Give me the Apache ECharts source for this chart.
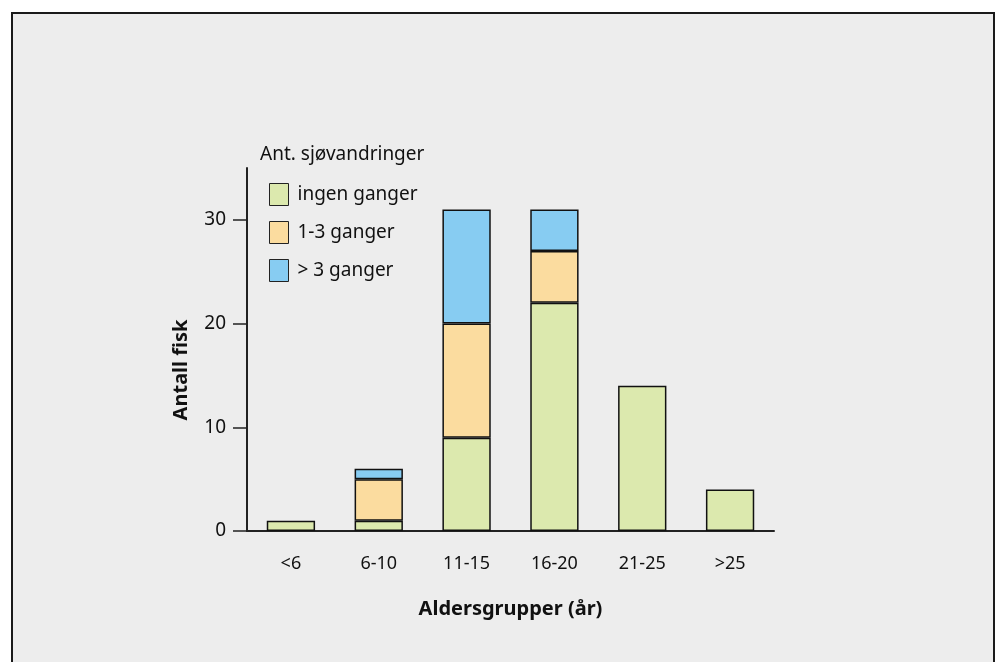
<!DOCTYPE html>
<html>
<head>
<meta charset="utf-8">
<script src="https://cdn.jsdelivr.net/npm/echarts@6/dist/echarts.min.js"></script>
<style>
  html, body { margin: 0; padding: 0; background: #ffffff; }
  #chart { width: 996px; height: 662px; }
</style>
</head>
<body>
<div id="chart"></div>
<script>
// Age groups of the fish (years)
const categories = ['<6', '6-10', '11-15', '16-20', '21-25', '>25'];
// Number of fish per age group, split by number of sea migrations
const ingenGanger = [1, 1, 9, 22, 14, 4];
const enTilTreGanger = [0, 4, 11, 5, 0, 0];
const overTreGanger = [0, 1, 11, 4, 0, 0];
const yTicks = [0, 10, 20, 30];

const FONT = '"Noto Sans", "Open Sans", sans-serif';
const chart = echarts.init(document.getElementById('chart'), null, { renderer: 'canvas' });

// empty segments are left out so they draw no outline
const seg = arr => arr.map(v => (v === 0 ? '-' : v));

const barStyle = color => ({ color: color, borderColor: '#111', borderWidth: 1.5 });

const series = [
  { name: 'ingen ganger', data: seg(ingenGanger), color: '#dce9ae' },
  { name: '1-3 ganger', data: seg(enTilTreGanger), color: '#fbdc9f' },
  { name: '> 3 ganger', data: seg(overTreGanger), color: '#87ccf2' }
].map(s => ({
  name: s.name,
  type: 'bar',
  stack: 'antall',
  barWidth: '55%',
  data: s.data,
  itemStyle: barStyle(s.color),
  emphasis: { disabled: true }
}));

chart.setOption({
  backgroundColor: '#ffffff',
  animation: false,
  textStyle: { fontFamily: FONT },
  graphic: [
    {
      type: 'rect',
      shape: { x: 12, y: 13, width: 982, height: 680 },
      style: { fill: '#ededed', stroke: '#1a1a1a', lineWidth: 2 },
      z: -10
    },
    {
      type: 'text',
      left: 260,
      top: 145,
      style: { text: 'Ant. sjøvandringer', font: '19px ' + FONT, fill: '#111' }
    },
    {
      type: 'text',
      x: 181,
      y: 370,
      rotation: Math.PI / 2,
      style: {
        text: 'Antall fisk', font: 'bold 20px ' + FONT, fill: '#111',
        align: 'center', verticalAlign: 'middle'
      }
    }
  ],
  legend: {
    orient: 'vertical',
    left: 264,
    top: 178,
    itemWidth: 19,
    itemHeight: 22,
    itemGap: 15,
    icon: 'rect',
    selectedMode: false,
    textStyle: { fontSize: 19, color: '#111', fontFamily: FONT, padding: [0, 0, 0, 4] },
    data: series.map(s => ({ name: s.name, itemStyle: { borderColor: '#222', borderWidth: 1 } }))
  },
  grid: { left: 247, right: 222, top: 168, bottom: 131, containLabel: false },
  xAxis: {
    type: 'category',
    data: categories,
    axisLine: { lineStyle: { color: '#222', width: 2 } },
    axisTick: { show: false },
    axisLabel: { fontSize: 18, color: '#111', margin: 24, fontFamily: FONT },
    name: 'Aldersgrupper (år)',
    nameLocation: 'middle',
    nameGap: 68,
    nameTextStyle: { fontSize: 20, fontWeight: 'bold', color: '#111', fontFamily: FONT }
  },
  yAxis: {
    type: 'value',
    min: 0,
    max: 35,
    interval: 10,
    splitLine: { show: false },
    axisLine: { show: true, lineStyle: { color: '#222', width: 2 } },
    axisTick: { show: true, length: 14, customValues: yTicks, lineStyle: { color: '#222', width: 1.5 } },
    axisLabel: {
      fontSize: 19, color: '#111', margin: 21, fontFamily: FONT,
      customValues: yTicks
    }
  },
  series: series
});
</script>
</body>
</html>
